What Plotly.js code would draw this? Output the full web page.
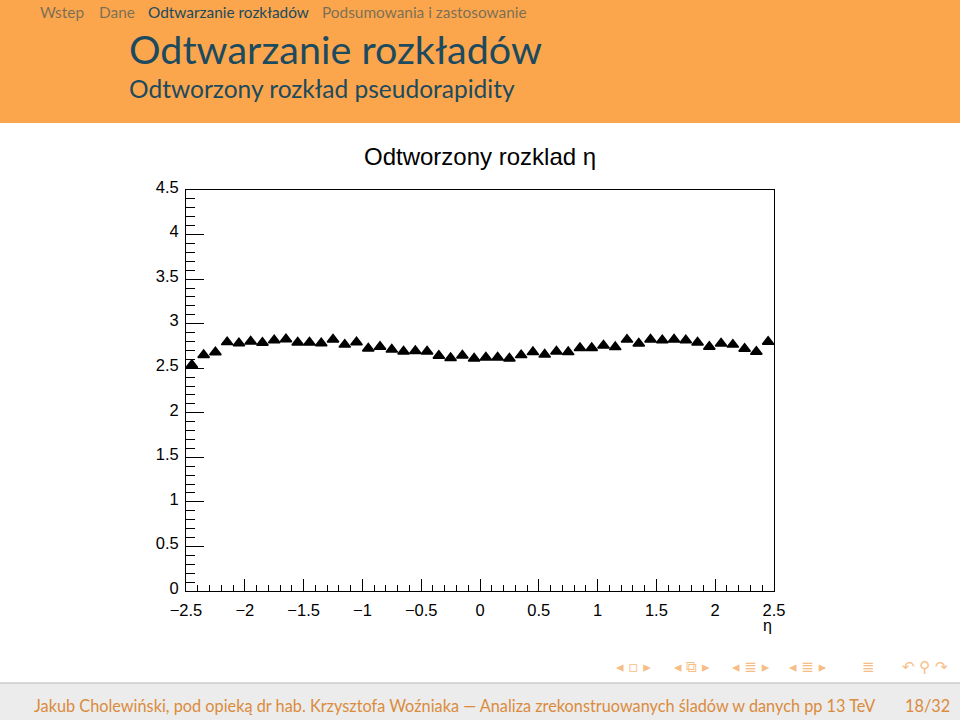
<!DOCTYPE html>
<html>
<head>
<meta charset="utf-8">
<script src="https://cdn.plot.ly/plotly-3.0.1.min.js"></script>
<style>
  html, body { margin: 0; padding: 0; background: #ffffff; }
  #chart { width: 960px; height: 720px; }
</style>
</head>
<body>
<div id="chart"></div>
<script>
// ---- data ----
const etaBins = [-2.45, -2.35, -2.25, -2.15, -2.05, -1.95, -1.85, -1.75, -1.65, -1.55,
                 -1.45, -1.35, -1.25, -1.15, -1.05, -0.95, -0.85, -0.75, -0.65, -0.55,
                 -0.45, -0.35, -0.25, -0.15, -0.05, 0.05, 0.15, 0.25, 0.35, 0.45,
                 0.55, 0.65, 0.75, 0.85, 0.95, 1.05, 1.15, 1.25, 1.35, 1.45,
                 1.55, 1.65, 1.75, 1.85, 1.95, 2.05, 2.15, 2.25, 2.35, 2.45];
const counts = [2.537, 2.649, 2.679, 2.793, 2.780, 2.800, 2.787, 2.815, 2.826, 2.789,
                2.789, 2.780, 2.823, 2.765, 2.791, 2.722, 2.741, 2.709, 2.688, 2.694,
                2.688, 2.640, 2.614, 2.644, 2.610, 2.621, 2.621, 2.610, 2.647, 2.681,
                2.653, 2.688, 2.681, 2.726, 2.726, 2.756, 2.737, 2.821, 2.778, 2.823,
                2.815, 2.823, 2.815, 2.789, 2.741, 2.778, 2.765, 2.718, 2.684, 2.797];
const xTickVals = [-2.5, -2, -1.5, -1, -0.5, 0, 0.5, 1, 1.5, 2, 2.5];
const yTickVals = [0, 0.5, 1, 1.5, 2, 2.5, 3, 3.5, 4, 4.5];
const navItems = ["Wstep", "Dane", "Odtwarzanie rozkładów", "Podsumowania i zastosowanie"];
const slideTitle = "Odtwarzanie rozkładów";
const slideSubtitle = "Odtworzony rozkład pseudorapidity";
const plotTitle = "Odtworzony rozklad η";
const xTitle = "η";
const footerText = "Jakub Cholewiński, pod opieką dr hab. Krzysztofa Woźniaka — Analiza zrekonstruowanych śladów w danych pp 13 TeV";
const pageText = "18/32";

// ---- geometry helpers (pixel -> paper) ----
const PL = 186, PR = 774, PT = 190, PB = 591, W = 960, H = 720;
const px = p => (p - PL) / (PR - PL);
const py = p => (PB - p) / (PB - PT);

const headerColor = "#FBA64C";
const titleColor = "#1C4A5E";
const navDim = "rgba(28,74,94,0.6)";
const footOrange = "#DB8B3C";
const iconOrange = "#F6BE85";

const trace = {
  x: etaBins, y: counts, type: "scatter", mode: "markers",
  marker: { symbol: "triangle-up", size: 10, color: "#000000",
            line: { color: "#000000", width: 1.5 } },
  hoverinfo: "x+y", showlegend: false
};

const navX = [38, 97, 146, 320];
const navAnn = navItems.map((t, i) => ({
  text: t, x: px(navX[i]), y: py(12), xref: "paper", yref: "paper",
  xanchor: "left", yanchor: "middle", showarrow: false,
  font: { family: "Lato", size: 15.4, color: i === 2 ? titleColor : navDim }
}));

const icons = [
  ["◂ ▫ ▸", 614], ["◂ ⧉ ▸", 672], ["◂ ≣ ▸", 730], ["◂ ≣ ▸", 787], ["≣", 860], ["↶ ⚲ ↷", 900]
];
const iconAnn = icons.map(([t, x]) => ({
  text: t, x: px(x), y: py(667), xref: "paper", yref: "paper",
  xanchor: "left", yanchor: "middle", showarrow: false,
  font: { family: "DejaVu Sans", size: 15, color: iconOrange }
}));

const layout = {
  width: W, height: H,
  margin: { l: PL, r: W - PR, t: PT, b: H - PB, pad: 0 },
  paper_bgcolor: "#ffffff", plot_bgcolor: "#ffffff",
  showlegend: false,
  xaxis: {
    range: [-2.5, 2.5], tickmode: "array", tickvals: xTickVals,
    ticktext: xTickVals.map(v => (v < 0 ? "\u2212" : "") + Math.abs(v)),
    ticks: "inside", ticklen: 12, tickwidth: 1, tickcolor: "#000",
    minor: { dtick: 0.1, tick0: 0, ticks: "inside", ticklen: 6, tickwidth: 1, tickcolor: "#000", showgrid: false },
    showline: true, linecolor: "#000", linewidth: 1, mirror: true,
    showgrid: false, zeroline: false,
    tickfont: { family: "Liberation Sans", size: 16.5, color: "#000" },
    ticklabelstandoff: 4
  },
  yaxis: {
    range: [0, 4.5], tickmode: "array", tickvals: yTickVals,
    ticks: "inside", ticklen: 18, tickwidth: 1, tickcolor: "#000",
    minor: { dtick: 0.1, tick0: 0, ticks: "inside", ticklen: 9, tickwidth: 1, tickcolor: "#000", showgrid: false },
    showline: true, linecolor: "#000", linewidth: 1, mirror: true,
    showgrid: false, zeroline: false,
    tickfont: { family: "Liberation Sans", size: 16.5, color: "#000" },
    ticklabelstandoff: 3, ticklabelshift: -3
  },
  shapes: [
    { type: "rect", xref: "paper", yref: "paper", layer: "below",
      x0: px(0), x1: px(W), y0: py(123), y1: py(0),
      fillcolor: headerColor, line: { width: 0 } },
    { type: "rect", xref: "paper", yref: "paper", layer: "below",
      x0: px(0), x1: px(W), y0: py(H), y1: py(683),
      fillcolor: "#ECECEC", line: { width: 0 } },
    { type: "line", xref: "paper", yref: "paper", layer: "below",
      x0: px(0), x1: px(W), y0: py(683), y1: py(683),
      line: { color: "#B8B8B8", width: 1 } }
  ],
  annotations: [
    ...navAnn,
    { text: slideTitle, x: px(127), y: py(48), xref: "paper", yref: "paper",
      xanchor: "left", yanchor: "middle", showarrow: false,
      font: { family: "Lato", size: 39.5, color: titleColor } },
    { text: slideSubtitle, x: px(127), y: py(88), xref: "paper", yref: "paper",
      xanchor: "left", yanchor: "middle", showarrow: false,
      font: { family: "Lato", size: 24.5, color: titleColor } },
    { text: plotTitle, x: px(480), y: py(157), xref: "paper", yref: "paper",
      xanchor: "center", yanchor: "middle", showarrow: false,
      font: { family: "Liberation Sans", size: 24, color: "#000" } },
    { text: xTitle, x: px(774), y: py(625), xref: "paper", yref: "paper",
      xanchor: "right", yanchor: "middle", showarrow: false,
      font: { family: "Liberation Sans", size: 16, color: "#000" } },
    ...iconAnn,
    { text: footerText, x: px(32), y: py(705), xref: "paper", yref: "paper",
      xanchor: "left", yanchor: "middle", showarrow: false,
      font: { family: "Lato", size: 16.3, color: footOrange } },
    { text: pageText, x: px(952), y: py(705), xref: "paper", yref: "paper",
      xanchor: "right", yanchor: "middle", showarrow: false,
      font: { family: "Lato", size: 16.3, color: footOrange } }
  ]
};

Plotly.newPlot("chart", [trace], layout, { displayModeBar: false, staticPlot: true });
</script>
</body>
</html>
